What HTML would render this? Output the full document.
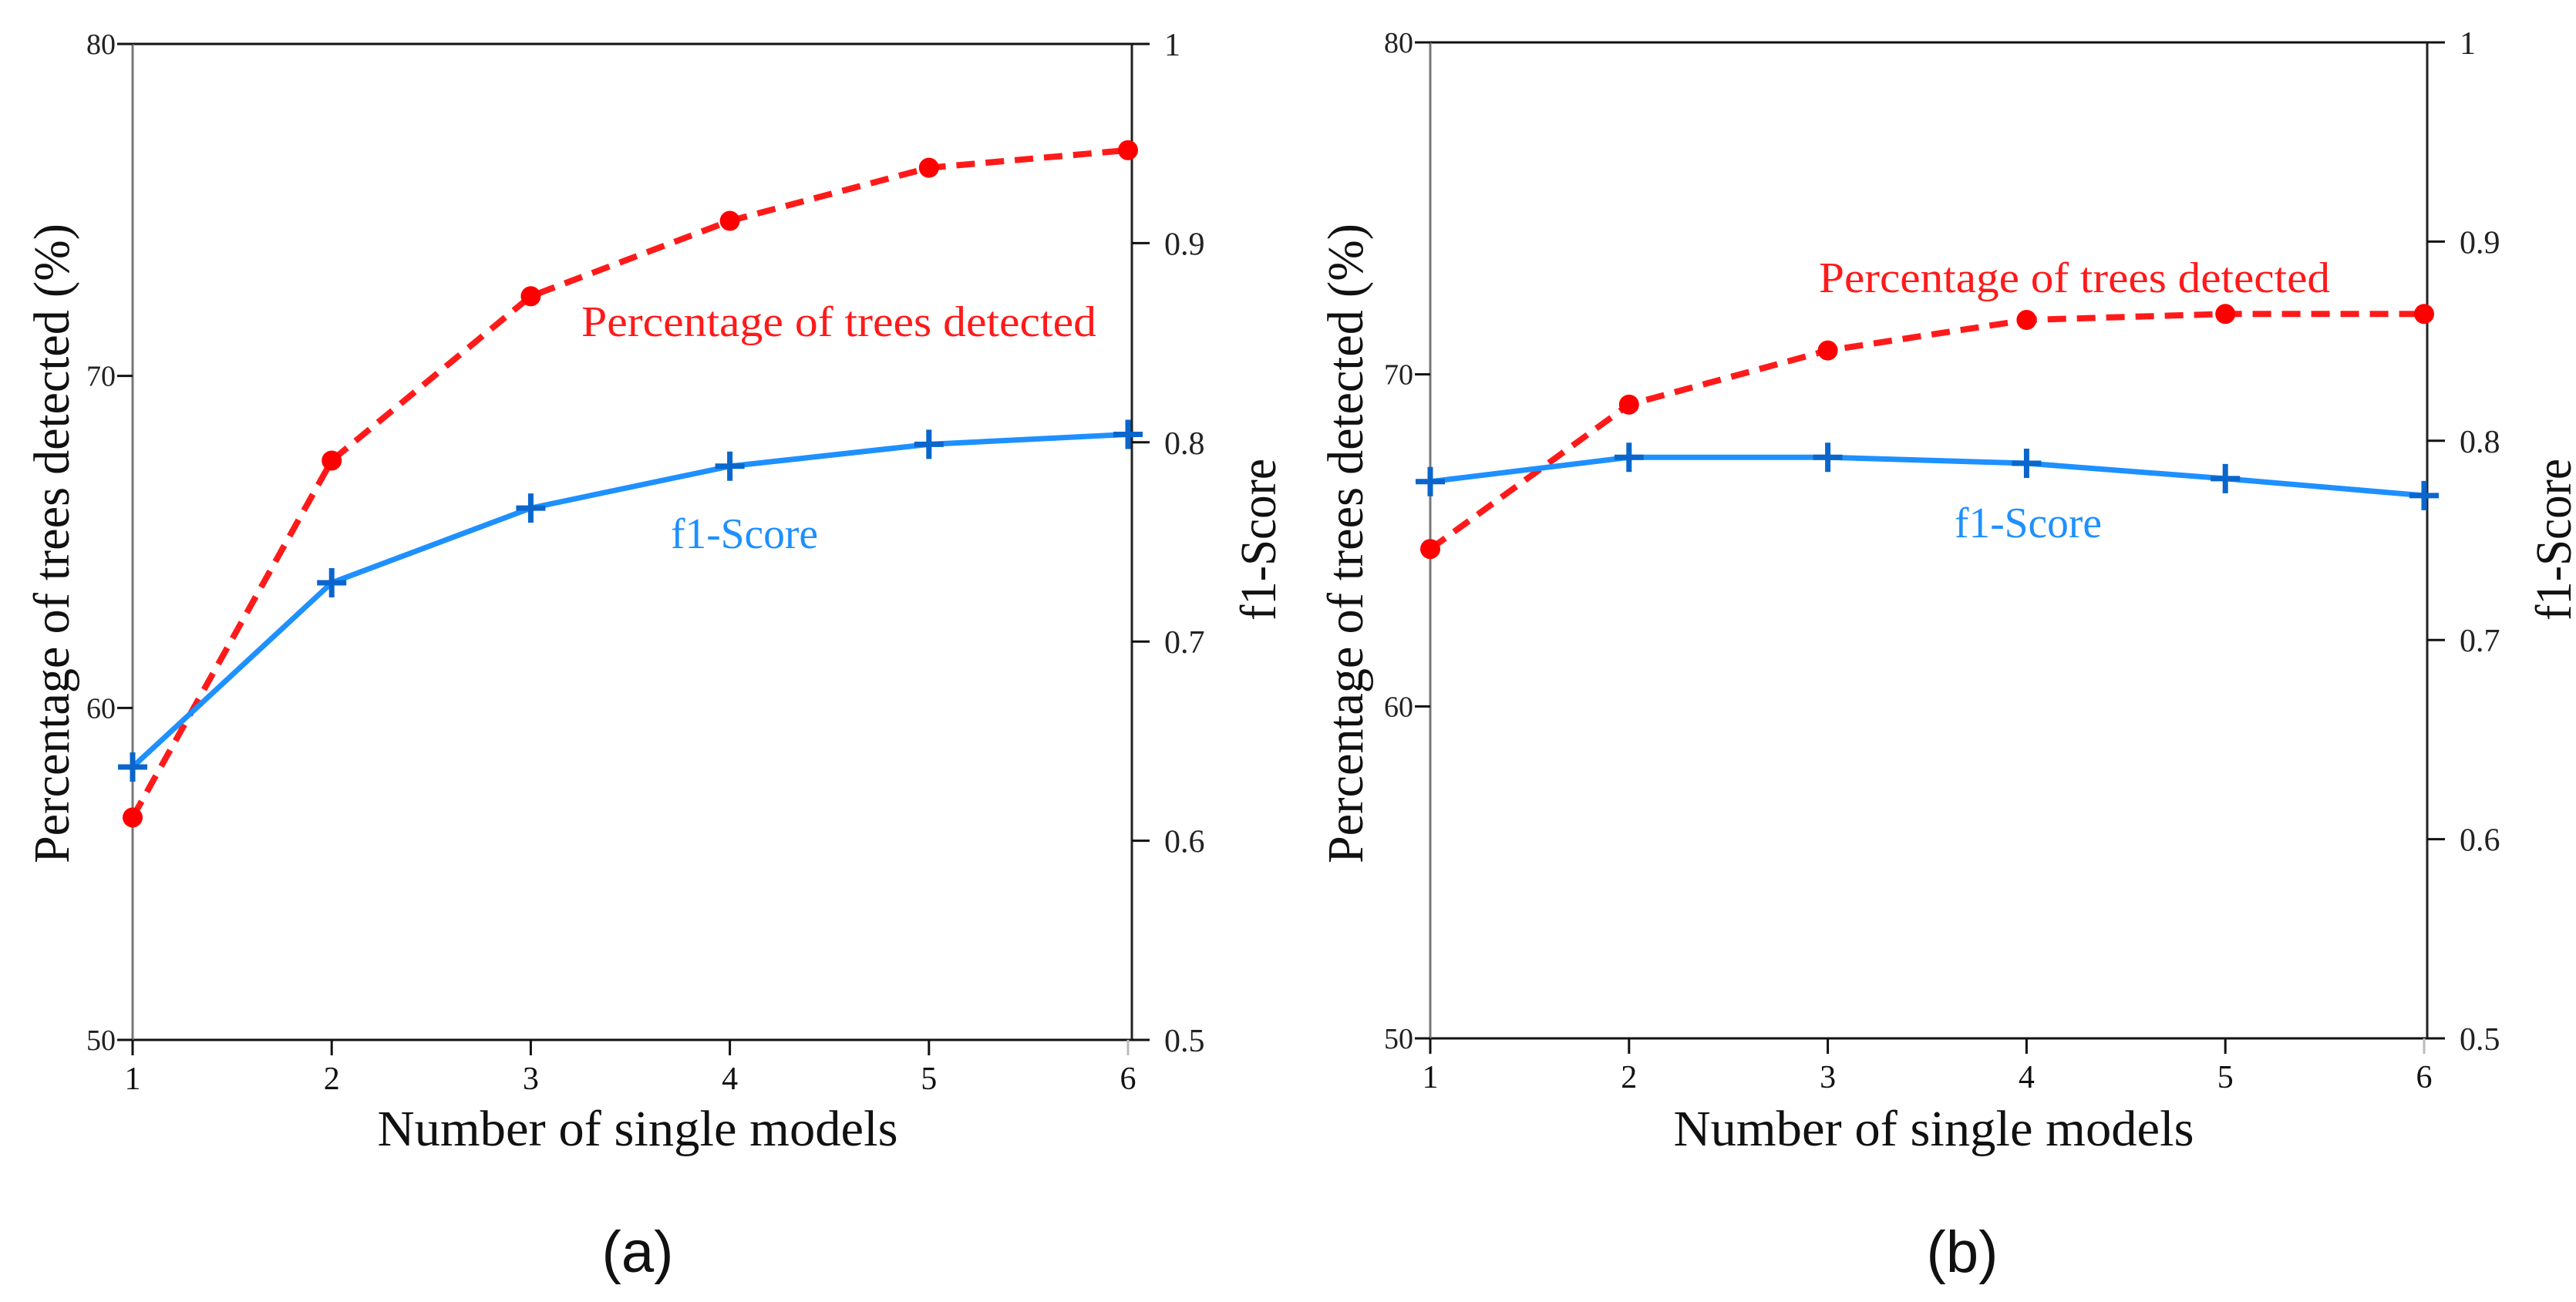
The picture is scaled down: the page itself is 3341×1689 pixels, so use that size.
<!DOCTYPE html>
<html><head><meta charset="utf-8"><style>
html,body{margin:0;padding:0;background:#fff;}
svg{display:block;font-family:"Liberation Serif",serif;}
</style></head><body>
<svg id="chart" width="3341" height="1689" viewBox="0 0 3341 1689" xmlns="http://www.w3.org/2000/svg"></svg>
<script>
const categories = [1, 2, 3, 4, 5, 6];
const pctTicks = [50, 60, 70, 80];
const f1Ticks = ["0.5", "0.6", "0.7", "0.8", "0.9", "1"];
const pctA = [56.7, 67.45, 72.4, 74.67, 76.27, 76.8];
const f1A = [0.637, 0.7295, 0.767, 0.788, 0.799, 0.804];
const pctB = [64.74, 69.09, 70.72, 71.64, 71.82, 71.82];
const f1B = [0.7795, 0.7917, 0.7917, 0.7887, 0.781, 0.7725];

const NS = "http://www.w3.org/2000/svg";
const svg = document.getElementById("chart");
function mk(tag, attrs, parent, text) {
  const e = document.createElementNS(NS, tag);
  for (const k in attrs) e.setAttribute(k, attrs[k]);
  if (text !== undefined) e.textContent = text;
  (parent || svg).appendChild(e);
  return e;
}

const panels = [
  {id:"a", L:172, R:1468, T:57, B:1349, x1:172, x6:1463, pct:pctA, f1:f1A,
   redLbl:[754,436], f1Lbl:[870,711], xt:827, yt:67, rt:1632, cap:827},
  {id:"b", L:1855, R:3148, T:55, B:1347, x1:1855, x6:3144, pct:pctB, f1:f1B,
   redLbl:[2359,379], f1Lbl:[2535,697], xt:2508, yt:1745, rt:3312, cap:2545}
];

panels.forEach(p => {
  const g = mk("g", {});
  
  
  const xs = c => p.x1 + (c - 1) * (p.x6 - p.x1) / 5;
  const ys = v => p.B - (v - 50) / 30 * (p.B - p.T);
  const yf = v => p.B - (v - 0.5) / 0.5 * (p.B - p.T);

  const topLine = mk("line", {x1:p.L-20, y1:p.T, x2:p.R+23, y2:p.T, stroke:"#111", "stroke-width":3}, g);
  
  
  const bot = mk("line", {x1:p.L-20, y1:p.B, x2:p.R+23, y2:p.B, stroke:"#111", "stroke-width":3}, g);
  
  
  const la = mk("line", {x1:p.L, y1:p.T, x2:p.L, y2:p.B+20, stroke:"#777", "stroke-width":3}, g);
  
  
  const ra = mk("line", {x1:p.R, y1:p.T, x2:p.R, y2:p.B, stroke:"#222", "stroke-width":3}, g);
  
  

  pctTicks.forEach(t => {
    const y = ys(t);
    mk("line", {x1:p.L-20, y1:y, x2:p.L, y2:y, stroke:"#111", "stroke-width":3}, g);
    const tl = mk("text", {x:p.L-22, y:y+13, "text-anchor":"end", "font-size":38, fill:"#222"}, g, String(t));
    
    
  });
  f1Ticks.forEach(t => {
    const y = yf(parseFloat(t));
    mk("line", {x1:p.R, y1:y, x2:p.R+23, y2:y, stroke:"#111", "stroke-width":3}, g);
    const tl = mk("text", {x:p.R+42, y:y+15, "font-size":42, fill:"#222"}, g, t);
    
    
  });
  categories.forEach(c => {
    const x = xs(c);
    mk("line", {x1:x, y1:p.B, x2:x, y2:p.B+20, stroke:c===6?"#bbb":"#111", "stroke-width":3}, g);
    const tl = mk("text", {x:x, y:p.B+64, "text-anchor":"middle", "font-size":42, fill:"#111"}, g, String(c));
    
    
  });

  const rp = categories.map((c,i) => xs(c)+","+ys(p.pct[i])).join(" ");
  const rl = mk("polyline", {points:rp, fill:"none", stroke:"#ff1a1a", "stroke-width":8, "stroke-dasharray":"24 14"}, g);
  
  
  categories.forEach((c,i) => {
    const m = mk("circle", {cx:xs(c), cy:ys(p.pct[i]), r:13, fill:"#ff0000"}, g);
    
    
  });

  const bp = categories.map((c,i) => xs(c)+","+yf(p.f1[i])).join(" ");
  const bl = mk("polyline", {points:bp, fill:"none", stroke:"#1e90ff", "stroke-width":7}, g);
  
  
  categories.forEach((c,i) => {
    const x = xs(c), y = yf(p.f1[i]);
    const m = mk("path", {d:`M${x-19},${y}H${x+19}M${x},${y-19}V${y+19}`, stroke:"#0a66cc", "stroke-width":7, fill:"none"}, g);
    
    
  });

  const r1 = mk("text", {x:p.redLbl[0], y:p.redLbl[1], "font-size":56, fill:"#ff1a1a", textLength:p.id==="a"?668:663, lengthAdjust:"spacingAndGlyphs"}, g, "Percentage of trees detected");
  
  
  const f1l = mk("text", {x:p.f1Lbl[0], y:p.f1Lbl[1], "font-size":56, fill:"#1e90ff", textLength:191, lengthAdjust:"spacingAndGlyphs"}, g, "f1-Score");
  
  
  const xt = mk("text", {x:p.xt, y:1486, "text-anchor":"middle", "font-size":66, fill:"#111", textLength:675, lengthAdjust:"spacingAndGlyphs"}, g, "Number of single models");
  
  
  const yt = mk("text", {x:0, y:0, "text-anchor":"middle", "font-size":66, fill:"#111", textLength:830, lengthAdjust:"spacingAndGlyphs", transform:`translate(${p.yt+22},705) rotate(-90)`}, g, "Percentage of trees detected (%)");
  
  
  const rt = mk("text", {x:0, y:0, "text-anchor":"middle", "font-size":66, fill:"#111", textLength:210, lengthAdjust:"spacingAndGlyphs", transform:`translate(${p.rt+22},700) rotate(-90)`}, g, "f1-Score");
  
  
  const cap = mk("text", {x:p.cap, y:1650, "text-anchor":"middle", "font-family":"Liberation Sans, sans-serif", "font-size":76, fill:"#111"}, g, "(" + p.id + ")");
  
  
});
</script>
</body></html>
